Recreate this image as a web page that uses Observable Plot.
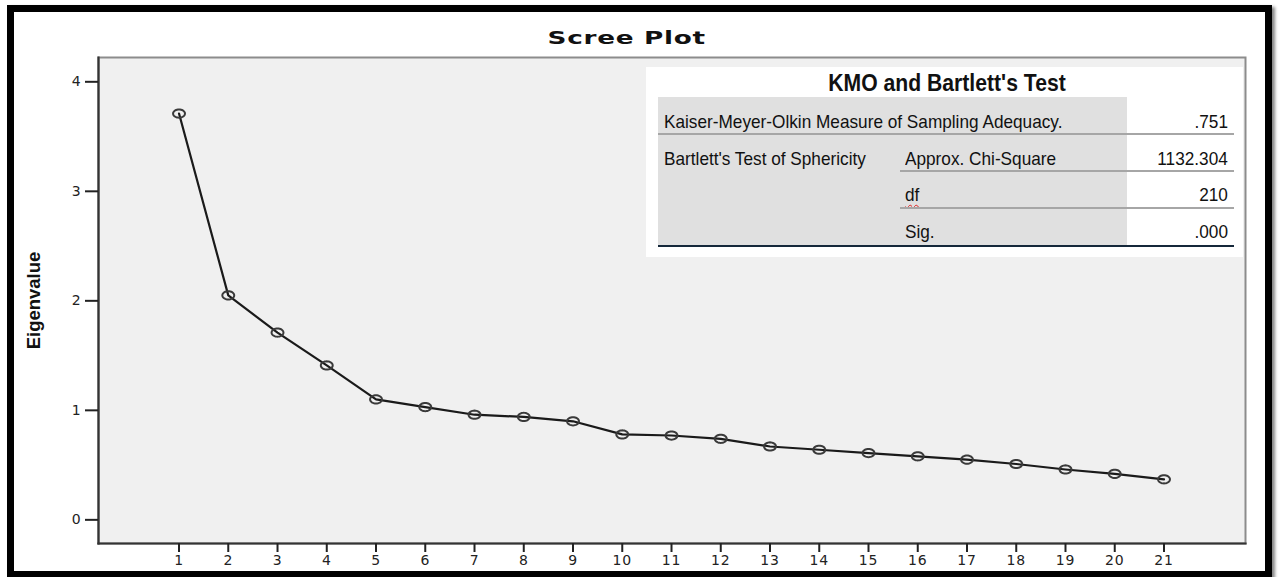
<!DOCTYPE html>
<html>
<head>
<meta charset="utf-8">
<script src="https://cdn.jsdelivr.net/npm/d3@7"></script>
<script src="https://cdn.jsdelivr.net/npm/@observablehq/plot@0.6"></script>
<style>
  html, body { margin: 0; padding: 0; background: #fff; }
  body { width: 1279px; height: 577px; position: relative; overflow: hidden; }
  #chart { position: absolute; left: 0; top: 0; }
  #chart svg g[aria-label$="tick label"] { font-size: 14px !important; font-family: "DejaVu Sans", sans-serif !important; letter-spacing: 0.8px; }
  #title { position: absolute; left: 0; top: 29px; width: 1253px; text-align: center;
           font-family: "DejaVu Sans", sans-serif; font-weight: bold; font-size: 18.5px; line-height: 18px;
           color: #111; }
  #title span { display: inline-block; transform: scaleX(1.42); letter-spacing: 0.5px; }
  #border { position: absolute; left: 7px; top: 5px; width: 1265px; height: 573px; box-sizing: border-box;
            border: 7px solid #000; box-shadow: 3px 2px 3px #888; pointer-events: none; }
  #kmo { position: absolute; left: 0; top: 0; width: 1279px; height: 577px; pointer-events: none;
         font-family: "Liberation Sans", Arial, sans-serif; color: #111; }
  #kmo .box { position: absolute; background: #fff; }
  #kmo .shade { position: absolute; background: #e0e0e0; }
  #kmo .rule { position: absolute; height: 2px; background: #a6a6a6; }
  #kmo .t { position: absolute; font-size: 18.5px; line-height: 18.5px; white-space: nowrap; }
  #kmo .l { transform: scaleX(0.93); transform-origin: left center; }
  #kmo .r { transform: scaleX(0.93); transform-origin: right center; text-align: right; }
  #kmo .head { position: absolute; font-weight: bold; font-size: 23px; line-height: 23px; white-space: nowrap;
               transform: translateX(-50%) scaleX(0.92); }
  #kmo .squig { text-decoration: underline wavy #d22; text-decoration-thickness: 1px; text-underline-offset: 3px; }
</style>
</head>
<body>
<div id="chart"></div>
<div id="title"><span></span></div>
<div id="kmo"></div>
<div id="border"></div>
<script>
// ---- data ----
const chartTitle = "Scree Plot";
const yLabel = "Eigenvalue";
const components = [1, 2, 3, 4, 5, 6, 7, 8, 9, 10, 11, 12, 13, 14, 15, 16, 17, 18, 19, 20, 21];
const eigenvalues = [3.71, 2.05, 1.71, 1.41, 1.10, 1.03, 0.96, 0.94, 0.90, 0.78, 0.77,
                     0.74, 0.67, 0.64, 0.61, 0.58, 0.55, 0.51, 0.46, 0.42, 0.37];
const yTicks = [0, 1, 2, 3, 4];

const tableTitle = "KMO and Bartlett's Test";
const tableCol1 = ["Kaiser-Meyer-Olkin Measure of Sampling Adequacy.", "Bartlett's Test of Sphericity", "", ""];
const tableCol2 = ["", "Approx. Chi-Square", "df", "Sig."];
const tableValues = [".751", "1132.304", "210", ".000"];

// ---- chart ----
const data = components.map((c, i) => ({component: c, eigenvalue: eigenvalues[i]}));

// open ellipse symbol (wider than tall), like the SPSS markers
const ellipse = {
  draw(context, size) {
    const r = Math.sqrt(size / Math.PI);
    const rx = r * 1.45, ry = r;
    const n = 36;
    for (let i = 0; i < n; i++) {
      const a = 2 * Math.PI * i / n;
      const px = rx * Math.cos(a), py = ry * Math.sin(a);
      if (i === 0) context.moveTo(px, py); else context.lineTo(px, py);
    }
    context.closePath();
  }
};

const plot = Plot.plot({
  width: 1279,
  height: 577,
  marginLeft: 98,
  marginRight: 34,
  marginTop: 57,
  marginBottom: 34,
  style: {background: "transparent", fontFamily: "DejaVu Sans, sans-serif", fontSize: "14px", color: "#222"},
  x: {domain: [-0.635, 22.655]},
  y: {domain: [-0.216, 4.222]},
  marks: [
    Plot.frame({fill: "#f0f0f0", stroke: "#8c8c8c", strokeWidth: 2}),
    Plot.frame({anchor: "left", stroke: "#333", strokeWidth: 2.2}),
    Plot.frame({anchor: "bottom", stroke: "#333", strokeWidth: 2.2}),
    Plot.axisX({ticks: components, tickSize: 9, tickPadding: 3, label: null, strokeWidth: 2,
      fontSize: 14, fill: "#222", tickFormat: d => String(d)}),
    Plot.axisY({ticks: yTicks, tickSize: 13, tickPadding: 4, label: null, strokeWidth: 2,
      fontSize: 14, fill: "#222", tickFormat: d => String(d)}),
    Plot.line(data, {x: "component", y: "eigenvalue", stroke: "#1a1a1a", strokeWidth: 2.2}),
    Plot.dot(data, {x: "component", y: "eigenvalue", r: 4.1, symbol: ellipse, stroke: "#3a3a3a", strokeWidth: 2, fill: "none"}),
    Plot.text([yLabel], {frameAnchor: "left", dx: -64, rotate: -90, textAnchor: "middle", lineAnchor: "middle",
      fontFamily: "Liberation Sans, Arial, sans-serif", fontWeight: "bold", fontSize: 18.5, fill: "#111"})
  ]
});
document.getElementById("chart").appendChild(plot);
document.querySelector("#title span").textContent = chartTitle;

// ---- KMO table inset ----
const kmo = document.getElementById("kmo");
function add(cls, css, text) {
  const el = document.createElement("div");
  el.className = cls;
  Object.assign(el.style, css);
  if (text != null) el.textContent = text;
  kmo.appendChild(el);
  return el;
}
add("box", {left: "646px", top: "67px", width: "597px", height: "190px"});
add("shade", {left: "658px", top: "97px", width: "469px", height: "148px"});
add("head", {left: "947px", top: "72px"}, tableTitle);

const rowTops = [113, 150, 186, 223];
const ruleTops = [133, 170, 207];
tableCol1.forEach((txt, i) => {
  if (txt) add("t l", {left: "664px", top: rowTops[i] + "px"}, txt);
});
tableCol2.forEach((txt, i) => {
  if (txt) {
    const el = add("t l", {left: "905px", top: rowTops[i] + "px"}, null);
    const sp = document.createElement("span");
    sp.textContent = txt;
    if (txt === "df") sp.className = "squig";
    el.appendChild(sp);
  }
});
tableValues.forEach((txt, i) => {
  add("t r", {right: (1279 - 1228) + "px", top: rowTops[i] + "px"}, txt);
});
add("rule", {left: "658px", top: ruleTops[0] + "px", width: "576px"});
add("rule", {left: "900px", top: ruleTops[1] + "px", width: "334px"});
add("rule", {left: "900px", top: ruleTops[2] + "px", width: "334px"});
add("rule", {left: "658px", top: "245px", width: "576px", background: "#15283a"});
</script>
</body>
</html>
